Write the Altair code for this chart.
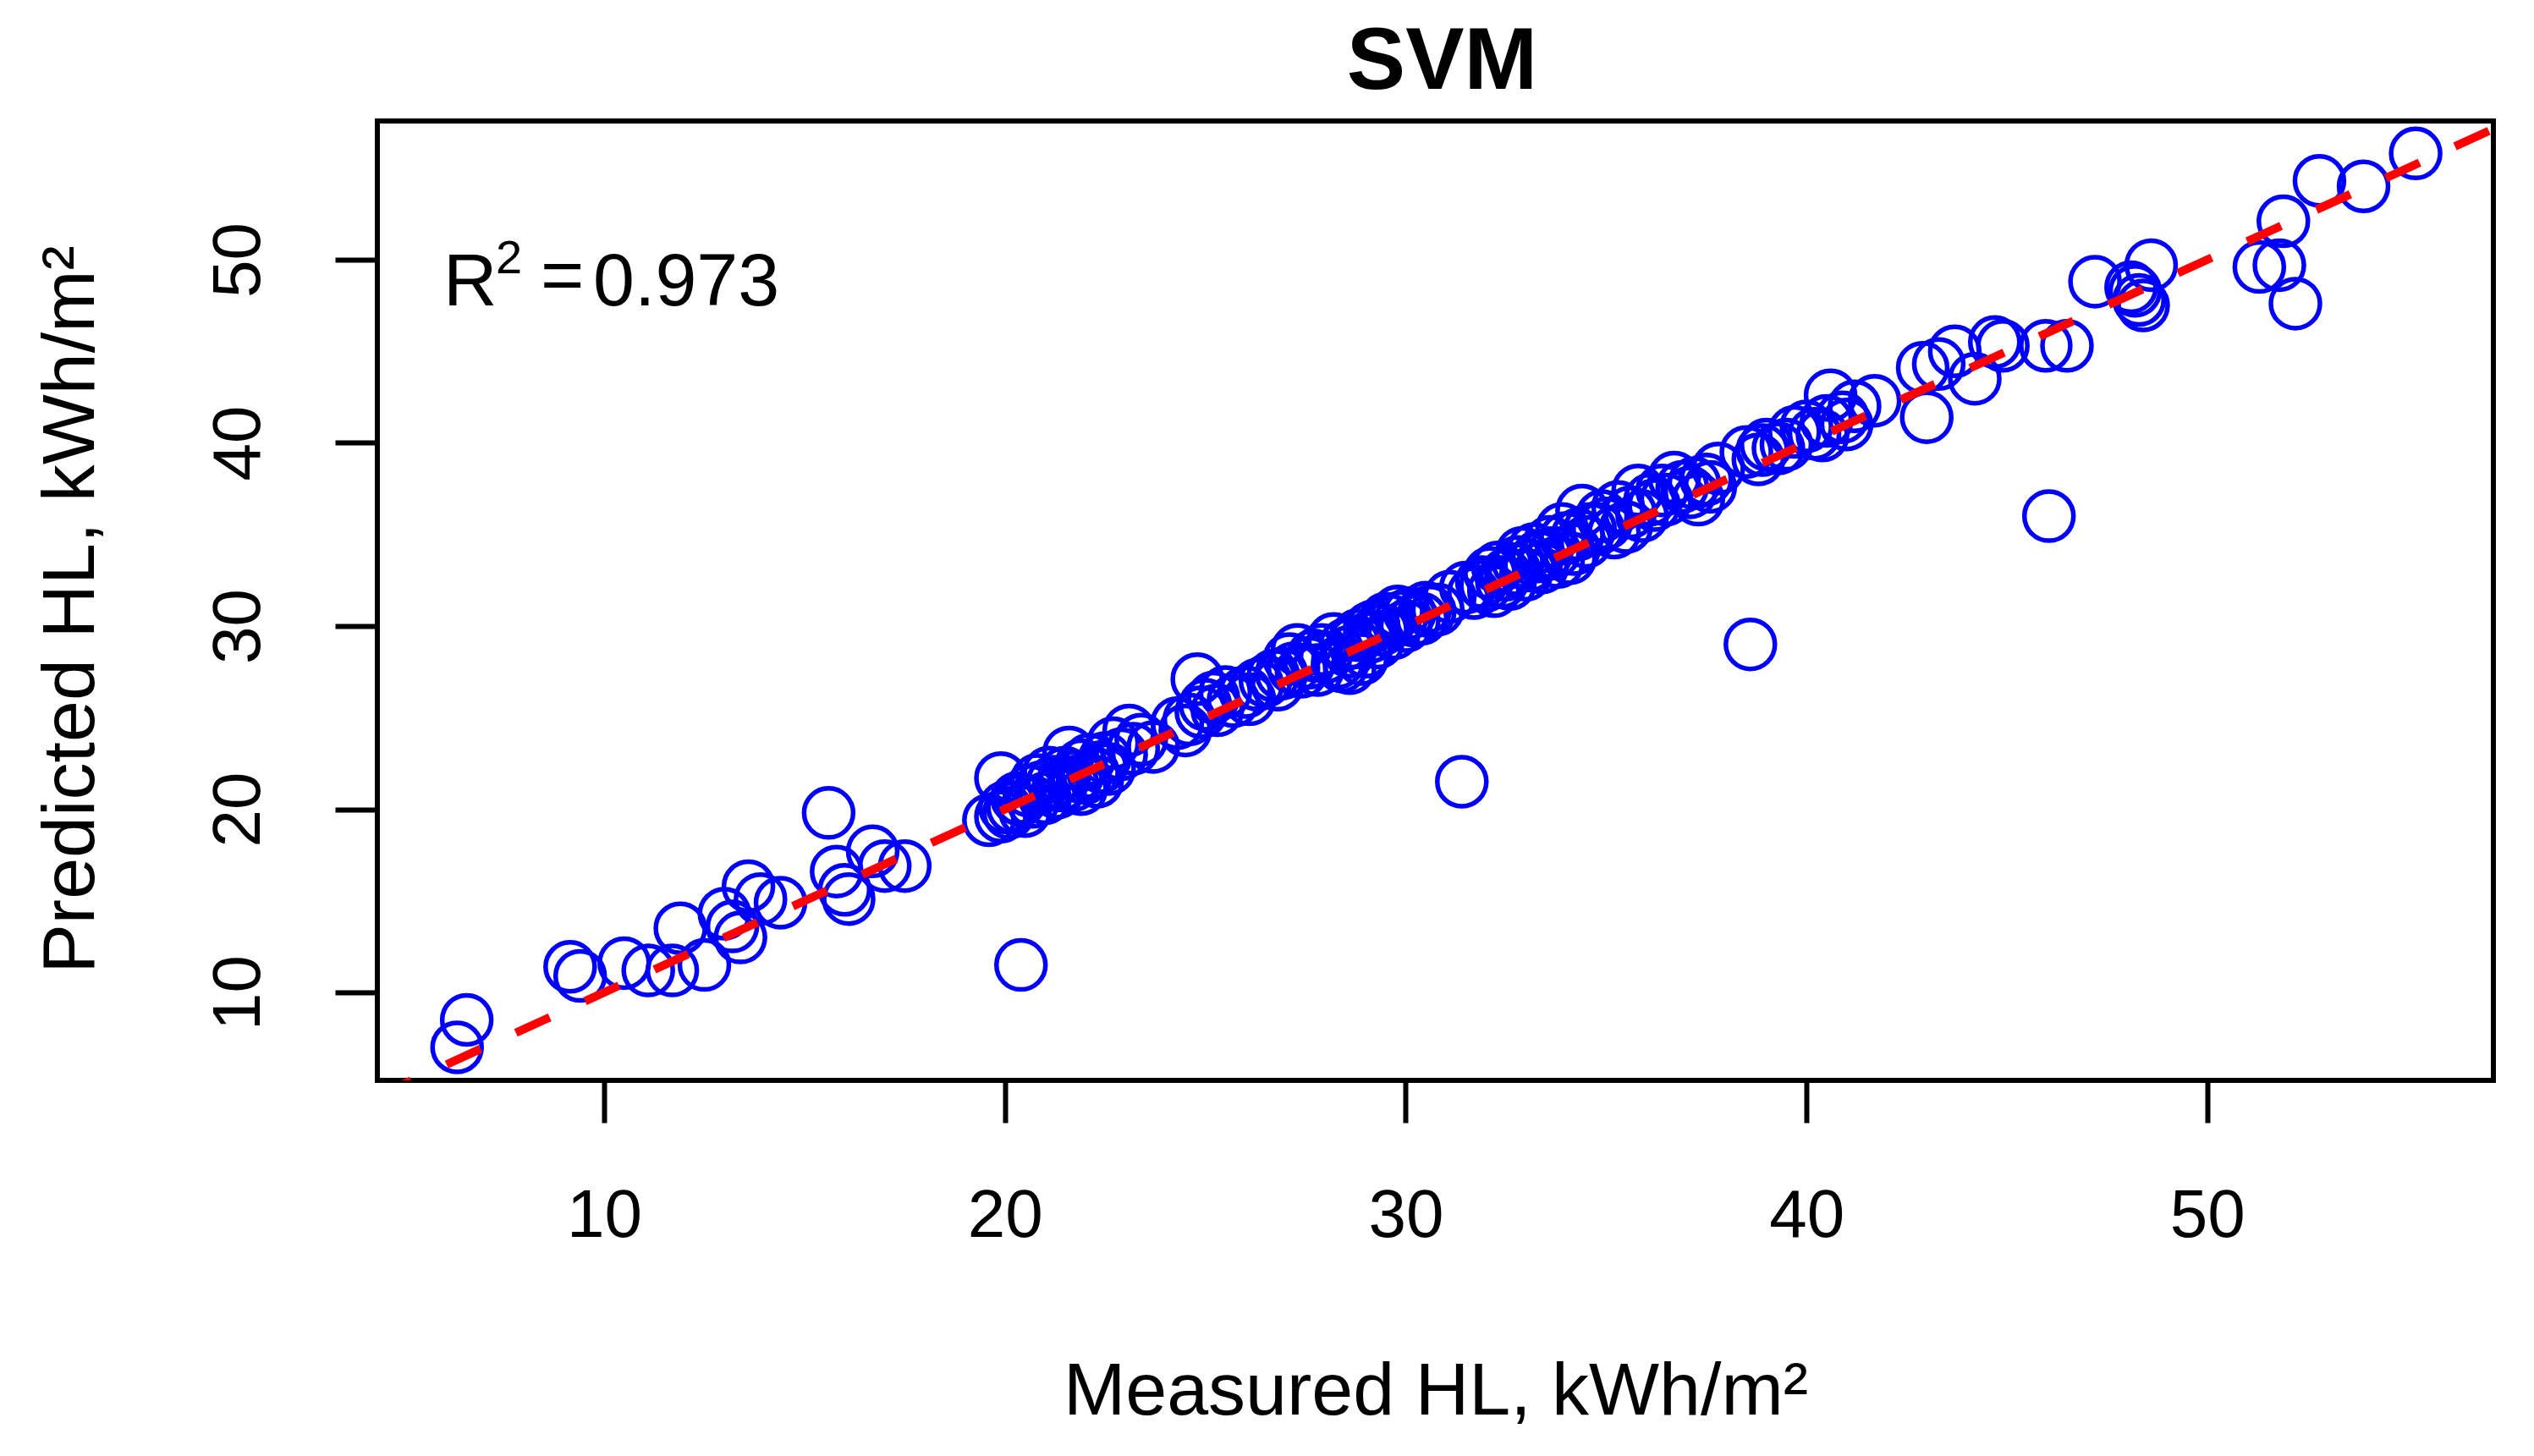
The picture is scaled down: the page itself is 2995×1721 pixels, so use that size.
import altair as alt
import pandas as pd

# ---- data ----
measured = [
    6.33, 6.57, 9.15, 9.4, 10.5, 11.1, 11.7, 11.9, 12.5, 13.0, 13.2, 13.4, 13.6, 13.9, 14.4,
    15.6, 15.8, 16.0, 16.1, 16.7, 17.0, 17.5, 20.4,
    19.6, 19.9, 19.9, 20.0, 20.2, 20.4, 20.6, 20.8, 21.1, 21.4, 21.6, 21.8, 21.9, 22.1, 22.4,
    22.7, 23.1, 23.4, 23.7,
    20.1, 20.3, 20.5, 20.7, 20.9, 21.0, 21.2, 21.3, 21.5, 21.7, 21.9, 22.0, 22.2, 22.3, 22.5,
    22.6, 22.9, 23.2,
    24.3, 24.6, 24.8, 25.0, 25.2, 25.5, 26.0, 26.3, 26.7, 26.8,
    24.5, 24.9, 25.3, 25.7, 26.1, 26.5, 26.9,
    27.1, 27.3, 27.6, 27.9, 28.2, 28.4, 28.6, 28.7, 28.9, 29.1, 29.2, 29.4, 29.6, 29.9, 30.1,
    30.4, 30.6, 31.1,
    27.2, 27.4, 27.7, 27.8, 28.0, 28.3, 28.5, 28.6, 28.8, 29.0, 29.1, 29.3, 29.5, 29.7, 29.8,
    30.0, 30.2, 30.5, 30.8,
    31.4, 31.5, 31.9, 32.1, 32.4, 32.7, 32.9, 33.1, 33.3, 33.6, 33.8, 33.9, 34.2, 34.4, 34.6,
    34.9, 35.3, 35.5, 35.8, 36.1, 36.4, 36.7, 37.1, 37.3, 37.5, 37.8,
    31.7, 32.0, 32.2, 32.3, 32.5, 32.6, 32.8, 33.0, 33.2, 33.4, 33.5, 33.7, 34.0, 34.1, 34.3,
    34.5, 34.8, 35.0, 35.2,
    35.6, 35.9, 36.2, 36.5, 36.9, 37.2, 37.6,
    38.6, 38.5, 38.8, 39.0, 39.3, 39.7, 40.0, 40.4, 40.6, 40.9, 41.2, 41.7,
    38.9, 39.5, 40.2, 40.5, 41.0,
    42.9, 43.0, 43.3, 43.7, 44.2, 44.7, 44.9, 45.97, 46.5, 46.05,
    47.2, 48.2, 48.3, 48.4, 48.6, 48.1,
    51.3, 51.8, 51.9, 52.2, 52.8, 53.9, 55.2,
]
predicted = [
    7.0, 8.5, 11.4, 10.9, 11.6, 11.2, 11.2, 13.5, 11.5, 14.3, 13.6, 13.0, 15.8, 15.1, 14.9,
    19.8, 16.6, 15.6, 15.1, 17.7, 16.9, 16.9, 11.5,
    19.4, 21.7, 19.6, 20.1, 20.1, 20.5, 21.0, 21.6, 22.0, 21.3, 23.1, 21.8, 21.1, 22.7, 22.3,
    23.6, 24.3, 23.8, 23.4,
    19.8, 20.6, 19.9, 20.4, 21.2, 20.6, 21.5, 20.9, 22.0, 21.3, 22.4, 21.7, 22.0, 21.5, 22.8,
    22.2, 23.0, 23.3,
    24.7, 24.9, 27.1, 25.7, 26.1, 26.4, 26.4, 26.8, 27.3, 26.8,
    24.3, 25.3, 25.4, 25.9, 26.0, 27.0, 27.4,
    28.2, 28.7, 28.0, 28.7, 29.3, 27.8, 28.6, 29.1, 28.2, 29.4, 30.0, 29.8, 30.3, 30.5, 30.7,
    30.4, 30.8, 31.6,
    27.7, 27.5, 28.4, 27.6, 28.3, 28.0, 29.0, 27.7, 29.5, 28.6, 29.9, 29.1, 30.4, 29.6, 30.8,
    30.0, 30.3, 31.0, 30.9,
    21.5, 32.1, 32.4, 32.9, 32.4, 33.1, 34.0, 33.3, 33.8, 34.6, 33.5, 35.3, 34.2, 36.3, 35.3,
    36.0, 36.5, 35.4, 37.4, 36.9, 37.4, 38.1, 37.3, 36.9, 38.0, 38.6,
    31.8, 32.2, 31.9, 33.2, 32.8, 32.3, 33.5, 32.8, 34.2, 33.2, 33.9, 34.0, 34.8, 33.7, 35.0,
    34.6, 35.3, 35.6, 35.1,
    36.2, 36.0, 36.6, 36.9, 37.6, 37.8, 37.6,
    29.0, 39.5, 39.1, 39.9, 39.7, 40.6, 40.9, 40.4, 42.6, 41.4, 42.0, 42.3,
    39.6, 39.9, 40.5, 41.2, 41.0,
    44.1, 41.4, 44.3, 45.0, 43.5, 45.5, 45.3, 45.3, 45.3, 36.0,
    48.8, 48.3, 47.8, 47.5, 49.7, 48.5,
    49.6, 49.7, 52.1, 47.6, 54.3, 54.0, 55.8,
]
x_ticks = [10, 20, 30, 40, 50]
y_ticks = [10, 20, 30, 40, 50]
x_domain = [4.34, 57.14]
y_domain = [5.2, 57.57]
r2_text = "0.973"
title_text = "SVM"

df = pd.DataFrame({"measured": measured, "predicted": predicted})
line_df = pd.DataFrame({"measured": x_domain, "predicted": x_domain})

FONT = "Liberation Sans"
W, H = 2501, 1134

xs = alt.Scale(domain=x_domain, nice=False, zero=False)
ys = alt.Scale(domain=y_domain, nice=False, zero=False)

x_axis = alt.Axis(
    values=x_ticks, title="Measured HL, kWh/m²", grid=False, domain=False,
    ticks=True, tickSize=50, tickWidth=6, tickColor="black",
    labelFont=FONT, labelFontSize=80, labelColor="black", labelPadding=71,
    labelBaseline="top", labelFlush=False, labelOverlap=False,
    titleFont=FONT, titleFontSize=88, titleFontWeight="normal", titleColor="black",
    titleX=W / 2, titleY=394, titleBaseline="alphabetic", titleAlign="center",
)
y_axis = alt.Axis(
    values=y_ticks, title="Predicted HL, kWh/m²", grid=False, domain=False,
    ticks=True, tickSize=50, tickWidth=6, tickColor="black",
    labelFont=FONT, labelFontSize=80, labelColor="black", labelPadding=90,
    labelAngle=270, labelAlign="center", labelBaseline="alphabetic",
    labelFlush=False, labelOverlap=False,
    titleFont=FONT, titleFontSize=88, titleFontWeight="normal", titleColor="black",
    titleAngle=270, titleX=-336, titleY=577, titleBaseline="alphabetic", titleAlign="center",
)

points = alt.Chart(df).mark_point(
    shape="circle", filled=False, color="#0000FF", strokeWidth=5.5, size=3364, opacity=1
).encode(
    x=alt.X("measured:Q", scale=xs, axis=x_axis),
    y=alt.Y("predicted:Q", scale=ys, axis=y_axis),
)

line = alt.Chart(line_df).mark_line(
    color="#FF0000", strokeWidth=10, strokeDash=[44, 46], clip=True
).encode(
    x=alt.X("measured:Q", scale=xs),
    y=alt.Y("predicted:Q", scale=ys),
)

def label(txt, px, py, size, weight="normal", align="left"):
    return alt.Chart(pd.DataFrame({"t": [txt]})).mark_text(
        font=FONT, fontSize=size, fontWeight=weight, align=align,
        baseline="alphabetic", color="black"
    ).encode(text="t:N", x=alt.value(px), y=alt.value(py))

ann = (label("R", 78, 218, 88) + label("2", 140, 180, 56)
       + label("=", 193, 212, 88) + label(r2_text, 255, 218, 88))
title = label(title_text, W / 2 + 8, -38, 104, weight="bold", align="center")

chart = alt.layer(points, line, ann, title).properties(
    width=W, height=H,
    autosize=alt.AutoSizeParams(type="none"),
    padding={"left": 438, "top": 135, "right": 40, "bottom": 436},
    background="white",
).configure_view(stroke="black", strokeWidth=6)

chart.save("out.html", embed_options={"renderer": "svg", "actions": False})
